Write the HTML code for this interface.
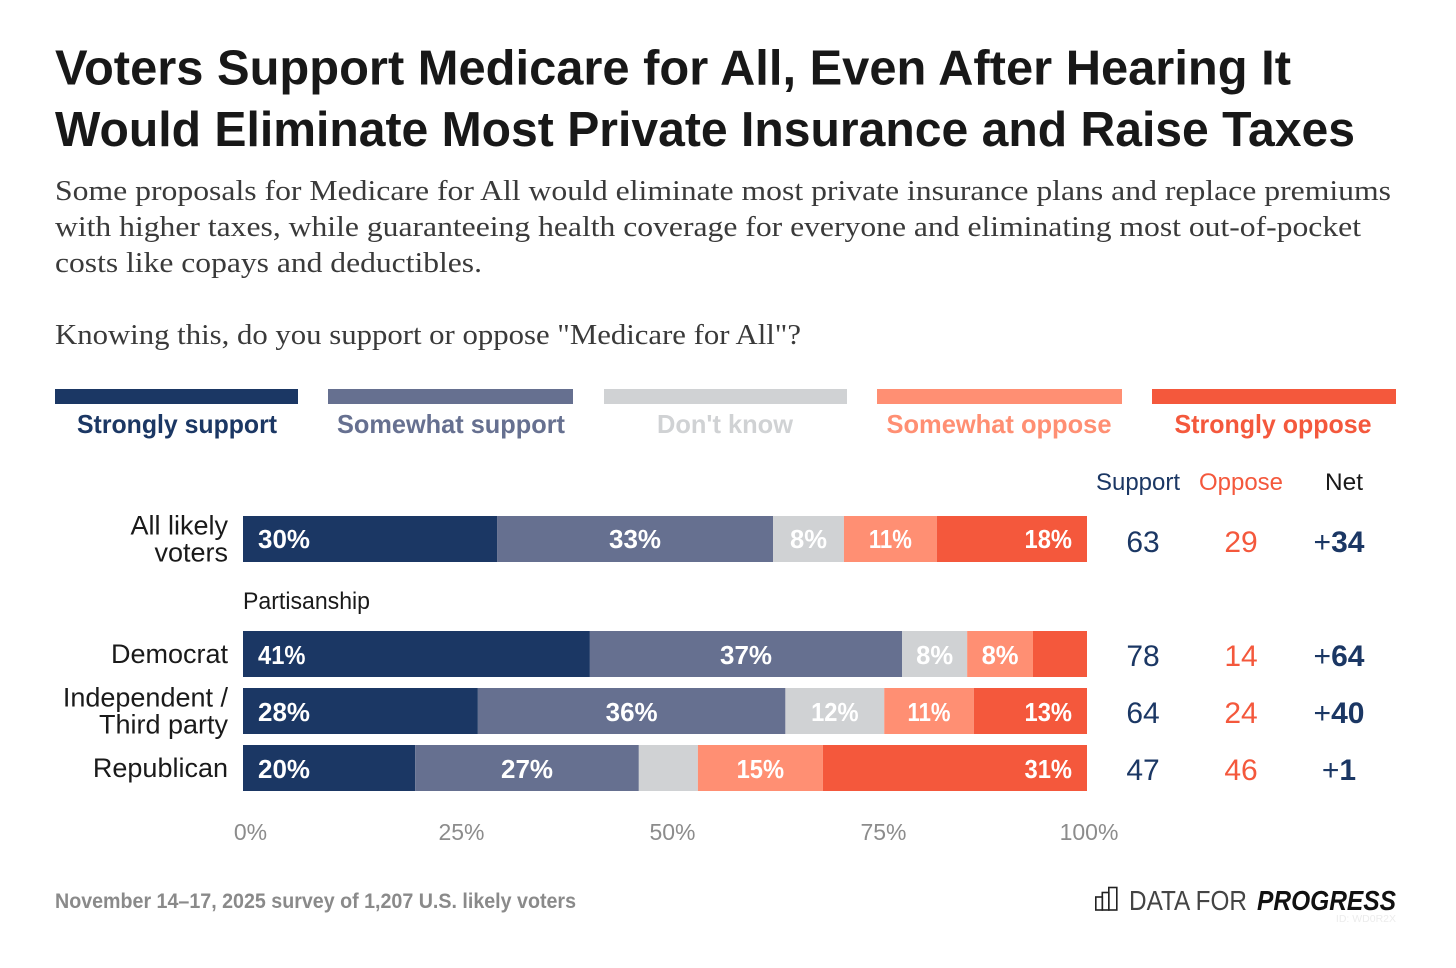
<!DOCTYPE html>
<html lang="en">
<head>
<meta charset="utf-8">
<title>Voters Support Medicare for All</title>
<style>
html,body{margin:0;padding:0;background:#fff;width:1456px;height:968px;overflow:hidden}
svg{display:block}
text{font-family:"Liberation Sans",sans-serif}
.serif{font-family:"Liberation Serif",serif;font-size:29px;fill:#3a3a3a}
.title{font-size:49px;font-weight:700;fill:#181818}
.legend{font-size:26px;font-weight:700;text-anchor:middle}
.head{font-size:24px;text-anchor:middle}
</style>
</head>
<body>
<svg id="chart" xmlns="http://www.w3.org/2000/svg" width="1456" height="968" viewBox="0 0 1456 968">
<rect x="0" y="0" width="1456" height="968" fill="#fff"/>
<text class="title" x="55" y="84.5" textLength="1236" lengthAdjust="spacingAndGlyphs">Voters Support Medicare for All, Even After Hearing It</text>
<text class="title" x="55" y="146" textLength="1300" lengthAdjust="spacingAndGlyphs">Would Eliminate Most Private Insurance and Raise Taxes</text>
<text class="serif" x="55" y="200" textLength="1336" lengthAdjust="spacingAndGlyphs">Some proposals for Medicare for All would eliminate most private insurance plans and replace premiums</text>
<text class="serif" x="55" y="236" textLength="1306" lengthAdjust="spacingAndGlyphs">with higher taxes, while guaranteeing health coverage for everyone and eliminating most out-of-pocket</text>
<text class="serif" x="55" y="272" textLength="427" lengthAdjust="spacingAndGlyphs">costs like copays and deductibles.</text>
<text class="serif" x="55" y="344" textLength="746" lengthAdjust="spacingAndGlyphs">Knowing this, do you support or oppose "Medicare for All"?</text>

<g>
<rect x="55" y="389" width="243" height="15" fill="#1b3764"/>
<rect x="328" y="389" width="245" height="15" fill="#667090"/>
<rect x="604" y="389" width="243" height="15" fill="#d0d2d4"/>
<rect x="877" y="389" width="245" height="15" fill="#ff8f73"/>
<rect x="1152" y="389" width="244" height="15" fill="#f4583c"/>
<text class="legend" x="177" y="433" fill="#1b3764" textLength="200" lengthAdjust="spacingAndGlyphs">Strongly support</text>
<text class="legend" x="451" y="433" fill="#667090" textLength="228" lengthAdjust="spacingAndGlyphs">Somewhat support</text>
<text class="legend" x="725" y="433" fill="#d0d2d4" textLength="136" lengthAdjust="spacingAndGlyphs">Don't know</text>
<text class="legend" x="999" y="433" fill="#ff8f73" textLength="225" lengthAdjust="spacingAndGlyphs">Somewhat oppose</text>
<text class="legend" x="1273" y="433" fill="#f4583c" textLength="197" lengthAdjust="spacingAndGlyphs">Strongly oppose</text>
</g>

<text class="head" x="1138" y="490" fill="#1b3764" textLength="84" lengthAdjust="spacingAndGlyphs">Support</text>
<text class="head" x="1241" y="490" fill="#f4583c" textLength="84" lengthAdjust="spacingAndGlyphs">Oppose</text>
<text class="head" x="1344" y="490" fill="#1a1a1a" textLength="38" lengthAdjust="spacingAndGlyphs">Net</text>
<text x="243" y="609" font-size="24" fill="#1a1a1a" textLength="127" lengthAdjust="spacingAndGlyphs">Partisanship</text>

<g id="bars"></g>
<g id="axis"></g>
<g id="table"></g>

<text x="55" y="908" font-size="21" font-weight="700" fill="#8a8a8a" textLength="521" lengthAdjust="spacingAndGlyphs">November 14–17, 2025 survey of 1,207 U.S. likely voters</text>

<g fill="none" stroke="#222" stroke-width="1.6">
<rect x="1095.8" y="897" width="6.5" height="13"/>
<rect x="1102.3" y="892.5" width="6.5" height="17.5"/>
<rect x="1108.8" y="887.5" width="8" height="22.5"/>
</g>
<text x="1129" y="910" font-size="28" fill="#444" textLength="118" lengthAdjust="spacingAndGlyphs">DATA FOR</text>
<text x="1257" y="910" font-size="28" font-weight="700" font-style="italic" fill="#111" textLength="139" lengthAdjust="spacingAndGlyphs">PROGRESS</text>
<text x="1396" y="922" font-size="10.5" text-anchor="end" fill="#ececec">ID: WD0R2X</text>
</svg>

<script>
// ---- Data ----
const groups = [["All likely", "voters"], ["Democrat"], ["Independent /", "Third party"], ["Republican"]];
const strongSupport = [30.1, 41.1, 27.8, 20.4];
const someSupport = [32.7, 37.0, 36.4, 26.5];
const dontKnow = [8.4, 7.7, 11.7, 7.0];
const someOppose = [11.0, 7.8, 10.6, 14.8];
const strongOppose = [17.8, 6.4, 13.4, 31.3];
const supportTotals = [63, 78, 64, 47];
const opposeTotals = [29, 14, 24, 46];
const netValues = [34, 64, 40, 1];
const axisTicks = [0, 25, 50, 75, 100];

const seriesNames = ["strongly-support", "somewhat-support", "dont-know", "somewhat-oppose", "strongly-oppose"];
const seriesValues = [strongSupport, someSupport, dontKnow, someOppose, strongOppose];
const seriesColors = ["#1b3764", "#667090", "#d0d2d4", "#ff8f73", "#f4583c"];

// ---- Scales ----
const plotLeft = 243, plotWidth = 844, barHeight = 46, minLabelShare = 7.2;
const xScale = v => plotLeft + v / 100 * plotWidth;
const rowTop = i => i === 0 ? 516 : 631 + 57 * (i - 1);

const NS = "http://www.w3.org/2000/svg";
const make = (tag, parent) => parent.appendChild(document.createElementNS(NS, tag));
const barsG = document.getElementById("bars");
const axisG = document.getElementById("axis");
const tableG = document.getElementById("table");

groups.forEach((lines, i) => {
  const top = rowTop(i);
  const mid = top + barHeight / 2;

  lines.forEach((line, k) => {
    const label = make("text", barsG);
    
    
    label.setAttribute("x", 228);
    label.setAttribute("y", mid + 9 + (k - (lines.length - 1) / 2) * 27);
    label.setAttribute("text-anchor", "end");
    label.setAttribute("font-size", 27);
    label.setAttribute("fill", "#1a1a1a");
    label.textContent = line;
  });

  const rowTotal = seriesValues.reduce((sum, s) => sum + s[i], 0);
  let cumulative = 0;
  seriesValues.forEach((series, s) => {
    const share = series[i] / rowTotal * 100;
    const x0 = xScale(cumulative);
    const x1 = xScale(cumulative + share);
    const seg = make("rect", barsG);
    
    
    seg.setAttribute("x", x0);
    seg.setAttribute("y", top);
    seg.setAttribute("width", x1 - x0);
    seg.setAttribute("height", barHeight);
    seg.setAttribute("fill", seriesColors[s]);
    if (series[i] >= minLabelShare) {
      const t = make("text", barsG);
      
      
      const anchored = s === 0 ? "start" : s === seriesValues.length - 1 ? "end" : "middle";
      const printed = Math.round(series[i]) + "%";
      const narrowOnes = printed.split("1").length - 1;
      t.setAttribute("text-anchor", anchored);
      t.setAttribute("x", s === 0 ? x0 + 15 : s === seriesValues.length - 1 ? x1 - 15 : (x0 + x1) / 2);
      t.setAttribute("y", mid + (i === 0 ? 9 : 10));
      t.setAttribute("font-size", 26);
      t.setAttribute("font-weight", 700);
      t.setAttribute("fill", "#fff");
      t.setAttribute("textLength", (printed.length === 2 ? 37 : 52) - 4.5 * narrowOnes);
      t.setAttribute("lengthAdjust", "spacingAndGlyphs");
      t.textContent = printed;
    }
    cumulative += share;
  });

  const numY = mid + (i === 0 ? 13 : 12);
  const sup = make("text", tableG);
  
  
  sup.setAttribute("x", 1143);
  sup.setAttribute("y", numY);
  sup.setAttribute("text-anchor", "middle");
  sup.setAttribute("font-size", 30);
  sup.setAttribute("fill", "#1b3764");
  sup.textContent = supportTotals[i];

  const opp = make("text", tableG);
  
  
  opp.setAttribute("x", 1241);
  opp.setAttribute("y", numY);
  opp.setAttribute("text-anchor", "middle");
  opp.setAttribute("font-size", 30);
  opp.setAttribute("fill", "#f4583c");
  opp.textContent = opposeTotals[i];

  const net = make("text", tableG);
  
  
  net.setAttribute("x", 1339);
  net.setAttribute("y", numY);
  net.setAttribute("text-anchor", "middle");
  net.setAttribute("font-size", 30);
  net.setAttribute("fill", "#1b3764");
  const plus = make("tspan", net);
  plus.textContent = netValues[i] >= 0 ? "+" : "−";
  const digits = make("tspan", net);
  digits.setAttribute("font-weight", 700);
  digits.textContent = Math.abs(netValues[i]);
});

axisTicks.forEach(tick => {
  const t = make("text", axisG);
  
  
  t.setAttribute("x", Math.min(xScale(tick) + 7.5, xScale(100) + 2));
  t.setAttribute("y", 840);
  t.setAttribute("text-anchor", "middle");
  t.setAttribute("font-size", 23);
  t.setAttribute("fill", "#8c8c8c");
  t.textContent = tick + "%";
});
</script>
</body>
</html>
